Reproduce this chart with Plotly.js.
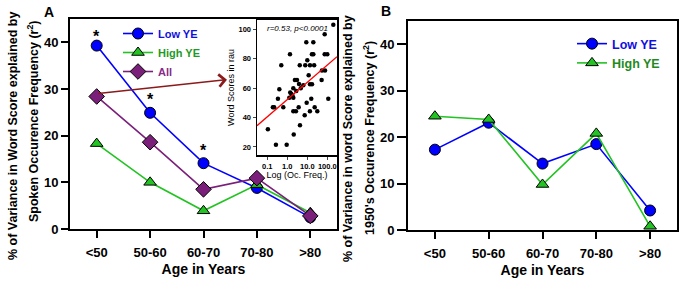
<!DOCTYPE html>
<html>
<head>
<meta charset="utf-8">
<script src="https://cdn.plot.ly/plotly-3.0.1.min.js"></script>
<style>html,body{margin:0;padding:0;background:#fff;}#chart{width:680px;height:284px;}</style>
</head>
<body>
<div id="chart"></div>
<script>
// ---- data ----
const ageLabels = ['<50', '50-60', '60-70', '70-80', '>80'];
const ageIdx = [0, 1, 2, 3, 4];

// Panel A: spoken occurrence frequency
const aLowYE  = [39.3, 24.9, 14.1, 8.8, 2.5];
const aHighYE = [18.3, 10.0, 3.9, 9.5, 3.5];
const aAll    = [28.4, 18.6, 8.5, 10.9, 2.8];
const starIdx = [0, 1, 2];
const starY   = [41.3, 27.8, 16.9];

// Panel B: 1950's occurrence frequency
const bLowYE  = [17.3, 23.1, 14.3, 18.5, 4.2];
const bHighYE = [24.5, 23.8, 9.8, 20.8, 0.8];

// Inset: word scores vs occurrence frequency
const insetFreq  = [200, 74, 8.9, 20, 1.36, 17, 20, 74, 100, 10, 0.5, 4.2, 7.9, 13.6, 22, 54, 77, 11.7, 2.4, 3.05,
                    52, 3.85, 6.3, 0.4, 2.0, 4.7, 1.4, 1.8, 1.26, 2.0, 13.6, 17.2, 0.34, 112, 0.19, 0.22, 0.63, 3.7,
                    9.3, 15.8, 23.4, 13.5, 31.6, 2.0, 2.7, 7.4, 4.3, 0.107, 2.1, 0.27, 0.93, 2.8, 1.6];
const insetScore = [103, 96.6, 91.2, 91.2, 83, 83, 83, 83, 83, 79, 75.5, 75.5, 75.5, 75.5, 75.5, 72, 72, 68.7, 65.5, 65.5,
                    65.5, 62.8, 62, 59.2, 59.9, 59.9, 57, 55, 53.5, 53.5, 62.6, 62.6, 52.7, 52.7, 46.9, 46.9, 46.9, 46.9,
                    50, 52.7, 47, 44.2, 44.2, 44.2, 44.2, 41.5, 34.8, 32, 28.5, 21.5, 21.5, 58, 56];
const fitFreq  = [0.0305, 305];
const fitScore = [34.4, 81.4];

// arrow from "All" <50 point toward the inset
const arrowFrom = [0, 29.0];
const arrowTo   = [2.44, 32.0];

// ---- styling ----
const FONT = 'Liberation Sans, Arial, Helvetica, sans-serif';
const BLUE = '#0000ff', GREEN = '#22c322', PURPLE = '#7a1f7a';
const W = 680, H = 284;
const px = v => v / W, py = v => 1 - v / H;

function mainAxisX(dom, anchor) {
  return {
    domain: dom, anchor: anchor, range: [-0.5, 4.5],
    tickmode: 'array', tickvals: ageIdx, ticktext: ageLabels,
    ticks: 'outside', ticklen: 7, tickwidth: 2, tickcolor: '#000', ticklabelstandoff: 3,
    showline: true, linewidth: 2, linecolor: '#000', mirror: true,
    showgrid: false, zeroline: false,
    tickfont: {family: FONT, size: 13, color: '#000', weight: 'bold'},
    title: {text: 'Age in Years', font: {family: FONT, size: 14, color: '#000', weight: 'bold'}, standoff: 6}
  };
}
function mainAxisY(dom, anchor, tlen) {
  return {
    domain: dom, anchor: anchor, range: [0, 45],
    tickmode: 'array', tickvals: [0, 10, 20, 30, 40],
    ticks: 'outside', ticklen: tlen, tickwidth: 2, tickcolor: '#000',
    showline: true, linewidth: 2, linecolor: '#000', mirror: true,
    showgrid: false, zeroline: false,
    tickfont: {family: FONT, size: 13, color: '#000', weight: 'bold'}
  };
}

const lineTrace = (x, y, name, color, symbol, size, xa, ya, legend, textColor) => ({
  x: x, y: y, type: 'scatter', mode: 'lines+markers',
  name: '<span style="color:' + textColor + '">' + name + '</span>',
  xaxis: xa, yaxis: ya, legend: legend,
  line: {color: color, width: 1.6},
  marker: {color: color, symbol: symbol, size: size, line: {color: '#000', width: 1}},
  hoverinfo: 'x+y'
});

const data = [
  lineTrace(ageIdx, aLowYE, 'Low YE', BLUE, 'circle', 11, 'x', 'y', 'legend', '#1010e0'),
  lineTrace(ageIdx, aHighYE, 'High YE', GREEN, 'triangle-up', 11, 'x', 'y', 'legend', '#1f9a1f'),
  lineTrace(ageIdx, aAll, 'All', PURPLE, 'diamond', 12, 'x', 'y', 'legend', '#8a2a8a'),
  lineTrace(ageIdx, bLowYE, 'Low YE', BLUE, 'circle', 11, 'x2', 'y2', 'legend2', '#1010e0'),
  lineTrace(ageIdx, bHighYE, 'High YE', GREEN, 'triangle-up', 11, 'x2', 'y2', 'legend2', '#1f8a1f'),
  {x: insetFreq, y: insetScore, type: 'scatter', mode: 'markers', xaxis: 'x3', yaxis: 'y3',
   marker: {color: '#000', size: 4.5}, showlegend: false},
  {x: fitFreq, y: fitScore, type: 'scatter', mode: 'lines', xaxis: 'x3', yaxis: 'y3',
   line: {color: '#ff0000', width: 1.3}, showlegend: false}
];

const titleFont = {family: FONT, size: 12.5, color: '#000', weight: 'bold'};
const paperText = (x, y, text, font, angle) => ({
  x: px(x), y: py(y), xref: 'paper', yref: 'paper', xanchor: 'center', yanchor: 'middle',
  text: text, showarrow: false, font: font, textangle: angle || 0
});

const annotations = starIdx.map((xi, i) => ({
  x: xi, y: starY[i], xref: 'x', yref: 'y', text: '*', showarrow: false,
  font: {family: FONT, size: 16, color: '#000', weight: 'bold'}
}));
annotations.push({
  x: arrowTo[0], y: arrowTo[1], ax: arrowFrom[0], ay: arrowFrom[1], xref: 'x', yref: 'y', axref: 'x', ayref: 'y',
  showarrow: true, arrowhead: 4, arrowsize: 1.6, arrowwidth: 1.5, arrowcolor: '#8b1a1a', text: ''
});
annotations.push(paperText(49, 12, '<b>A</b>', {family: FONT, size: 14, color: '#000'}));
annotations.push(paperText(386, 11, '<b>B</b>', {family: FONT, size: 14, color: '#000'}));
// y-axis titles (two lines each)
annotations.push(paperText(13, 136, '% of Variance in Word Score explained by', titleFont, -90));
annotations.push(paperText(33, 122, 'Spoken Occurence Frequency (r<sup>2</sup>)', titleFont, -90));
annotations.push(paperText(348, 139, '% of Variance in word Score explained by', titleFont, -90));
annotations.push(paperText(369, 138, "1950's Occurence Frequency (r<sup>2</sup>)", titleFont, -90));
annotations.push({x: 0.5, y: 0.985, xref: 'x3 domain', yref: 'y3 domain', xanchor: 'center', yanchor: 'top',
  text: '<i>r=0.53, p&lt;0.0001</i>', showarrow: false, font: {family: FONT, size: 8, color: '#000'}});

const layout = {
  width: W, height: H, margin: {l: 0, r: 0, t: 0, b: 0},
  paper_bgcolor: '#fff', plot_bgcolor: '#fff',
  font: {family: FONT, color: '#000'},
  xaxis: mainAxisX([px(70), px(337)], 'y'),
  yaxis: mainAxisY([py(229), py(19)], 'x', 7),
  xaxis2: mainAxisX([px(408), px(677)], 'y2'),
  yaxis2: mainAxisY([py(230), py(21)], 'x2', 9),
  xaxis3: {
    domain: [px(257), px(337)], anchor: 'y3', type: 'log', range: [-1.515, 2.485],
    tickmode: 'array', tickvals: [0.1, 1, 10, 100], ticktext: ['0.1', '1.0', '10.0', '100.0'],
    ticks: 'outside', ticklen: 3, tickwidth: 1, showline: true, linewidth: 1.5, linecolor: '#000', mirror: true,
    showgrid: false, zeroline: false,
    tickfont: {family: FONT, size: 7.5, color: '#000', weight: 'bold'},
    title: {text: 'Log (Oc. Freq.)', font: {family: FONT, size: 9, color: '#000'}, standoff: 1}
  },
  yaxis3: {
    domain: [py(155), py(20)], anchor: 'x3', range: [14.5, 106.3],
    tickmode: 'array', tickvals: [20, 40, 60, 80, 100],
    ticks: 'outside', ticklen: 3, tickwidth: 1, showline: true, linewidth: 1.5, linecolor: '#000', mirror: true,
    showgrid: false, zeroline: false,
    tickfont: {family: FONT, size: 7.5, color: '#000', weight: 'bold'},
    title: {text: 'Word Scores in rau', font: {family: FONT, size: 9, color: '#000'}, standoff: 2}
  },
  legend: {
    x: px(118), y: py(19), xanchor: 'left', yanchor: 'top', bgcolor: 'rgba(0,0,0,0)',
    traceorder: 'normal', tracegroupgap: 0,
    font: {family: FONT, size: 11, color: '#000', weight: 'bold'}
  },
  legend2: {
    x: px(572), y: py(29), xanchor: 'left', yanchor: 'top', bgcolor: 'rgba(0,0,0,0)',
    font: {family: FONT, size: 12.5, color: '#000', weight: 'bold'}
  },
  showlegend: true,
  annotations: annotations
};

Plotly.newPlot('chart', data, layout, {displayModeBar: false, staticPlot: true});
</script>
</body>
</html>
